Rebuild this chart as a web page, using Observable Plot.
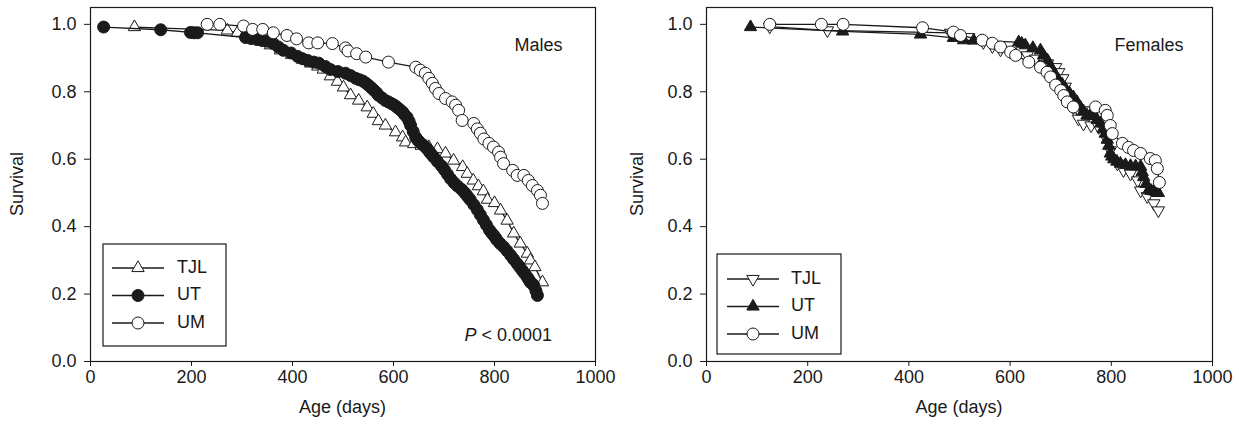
<!DOCTYPE html>
<html><head><meta charset="utf-8">
<script src="https://cdn.jsdelivr.net/npm/d3@7"></script>
<script src="https://cdn.jsdelivr.net/npm/@observablehq/plot@0.6"></script>
<style>
body{margin:0;background:#fff;}
#wrap{display:flex;width:1239px;height:424px;}
</style></head><body><div id="wrap"></div>
<script>
// ---- data (age in days, survival fraction) ----
const xTicks = [0, 200, 400, 600, 800, 1000];
const yTicks = [0, 0.2, 0.4, 0.6, 0.8, 1.0];
const groups = ["TJL", "UT", "UM"];

const malesTJL = [[87,0.992],[271,0.982],[291,0.975],[343,0.955],[356,0.938],[376,0.923],[398,0.91],[420,0.895],[436,0.884],[450,0.875],[461,0.866],[475,0.846],[489,0.83],[501,0.813],[515,0.79],[531,0.774],[548,0.754],[560,0.735],[570,0.713],[584,0.70],[604,0.68],[618,0.665],[624,0.65],[640,0.645],[655,0.64],[670,0.636],[687,0.63],[703,0.617],[719,0.596],[737,0.577],[746,0.557],[758,0.537],[768,0.52],[778,0.505],[786,0.48],[800,0.47],[812,0.448],[825,0.418],[838,0.38],[851,0.35],[865,0.32],[871,0.30],[880,0.28],[895,0.235]];
const malesUT = [[26,0.992],[139,0.984],[198,0.976],[205,0.975],[212,0.975],[307,0.961],[318,0.958],[330,0.955],[340,0.952],[350,0.95],[362,0.943],[372,0.933],[382,0.923],[397,0.915],[410,0.905],[420,0.898],[430,0.893],[442,0.888],[452,0.885],[465,0.875],[475,0.866],[490,0.86],[505,0.855],[515,0.848],[525,0.84],[532,0.836],[539,0.832],[545,0.826],[550,0.82],[556,0.812],[561,0.805],[566,0.798],[570,0.79],[577,0.782],[584,0.774],[590,0.77],[596,0.765],[602,0.76],[607,0.754],[612,0.748],[618,0.74],[622,0.732],[627,0.724],[631,0.712],[634,0.70],[639,0.682],[644,0.665],[648,0.657],[652,0.65],[658,0.643],[663,0.636],[668,0.628],[672,0.62],[676,0.613],[680,0.606],[687,0.593],[695,0.58],[701,0.568],[707,0.555],[713,0.542],[720,0.53],[727,0.52],[735,0.51],[740,0.502],[744,0.495],[748,0.487],[752,0.48],[759,0.465],[766,0.45],[772,0.435],[778,0.42],[784,0.405],[790,0.39],[794,0.382],[798,0.375],[802,0.367],[805,0.36],[811,0.35],[818,0.34],[825,0.328],[832,0.315],[838,0.303],[845,0.29],[850,0.28],[855,0.27],[860,0.26],[865,0.25],[868,0.243],[871,0.235],[875,0.23],[878,0.225],[882,0.21],[885,0.196]];
const malesUM = [[231,1.0],[256,1.0],[303,0.995],[321,0.985],[341,0.985],[362,0.975],[389,0.967],[408,0.957],[432,0.945],[450,0.945],[479,0.943],[505,0.93],[510,0.921],[527,0.913],[545,0.903],[590,0.888],[644,0.873],[653,0.864],[663,0.855],[670,0.84],[677,0.825],[683,0.81],[690,0.795],[703,0.78],[716,0.77],[723,0.76],[729,0.745],[736,0.715],[759,0.706],[766,0.69],[772,0.677],[779,0.66],[789,0.647],[798,0.636],[808,0.621],[812,0.606],[818,0.587],[836,0.567],[845,0.552],[858,0.552],[867,0.537],[875,0.522],[885,0.507],[891,0.493],[895,0.469]];

const femalesTJL = [[125,0.993],[239,0.982],[482,0.975],[496,0.97],[518,0.962],[547,0.947],[565,0.935],[581,0.925],[601,0.918],[634,0.908],[650,0.898],[674,0.884],[690,0.873],[696,0.858],[704,0.84],[709,0.815],[713,0.774],[725,0.754],[735,0.72],[745,0.705],[760,0.70],[775,0.695],[785,0.69],[792,0.656],[798,0.626],[812,0.587],[824,0.567],[838,0.557],[852,0.537],[858,0.507],[871,0.49],[884,0.469],[893,0.448]];
const femalesUT = [[87,0.992],[269,0.979],[423,0.970],[488,0.96],[508,0.953],[528,0.952],[617,0.947],[623,0.943],[630,0.938],[645,0.93],[660,0.923],[666,0.908],[674,0.893],[680,0.875],[686,0.858],[691,0.846],[696,0.834],[703,0.822],[709,0.81],[717,0.797],[725,0.784],[732,0.77],[739,0.754],[745,0.742],[752,0.73],[758,0.729],[765,0.728],[772,0.717],[779,0.706],[784,0.69],[788,0.676],[792,0.658],[795,0.64],[798,0.617],[801,0.608],[805,0.60],[811,0.593],[818,0.587],[828,0.583],[838,0.58],[848,0.579],[858,0.578],[861,0.562],[864,0.547],[869,0.527],[874,0.508],[879,0.506],[884,0.505],[889,0.502],[893,0.50]];
const femalesUM = [[125,1.0],[227,1.0],[270,1.0],[427,0.99],[488,0.977],[502,0.967],[545,0.953],[565,0.944],[581,0.933],[601,0.918],[611,0.908],[637,0.888],[660,0.873],[673,0.858],[680,0.844],[690,0.82],[700,0.804],[706,0.789],[713,0.77],[725,0.755],[769,0.755],[788,0.745],[792,0.73],[798,0.70],[802,0.676],[822,0.647],[834,0.635],[844,0.626],[858,0.617],[877,0.602],[887,0.596],[891,0.572],[895,0.531]];

// ---- symbols ----
const triDown = {draw(ctx, size){ const y = Math.sqrt(size/(3*Math.sqrt(3))); ctx.moveTo(0, 2*y); ctx.lineTo(-Math.sqrt(3)*y, -y); ctx.lineTo(Math.sqrt(3)*y, -y); ctx.closePath(); }};
const FONT = "'Liberation Sans', Arial, Helvetica, sans-serif";
const INK = "#1a1a1a";
const FS = 18;

function makePanel(cfg){
  const marks = [];
  for (const s of cfg.series){
    const data = s.pts.map(([a, v]) => ({a, v}));
    marks.push(Plot.line(data, {x:"a", y:"v", stroke: INK, strokeWidth: 1.3}));
    marks.push(Plot.dot(data, {x:"a", y:"v", symbol: s.symbol, r: s.r, fill: s.fill, stroke: INK, strokeWidth: 1}));
  }
  const svg = Plot.plot({
    width: cfg.width, height: 424,
    marginLeft: cfg.ml, marginRight: cfg.mr, marginTop: 7, marginBottom: 63,
    x: {domain: [0, 1000]},
    y: {domain: [0, 1.05]},
    style: {fontFamily: FONT, fontSize: FS + "px", color: INK, background: "white", overflow: "visible"},
    marks: [
      Plot.axisX({ticks: xTicks, tickSize: 5, tickPadding: 4, tickFormat: d => String(d), label: null}),
      Plot.axisY({ticks: yTicks, tickSize: 6, tickPadding: 8, tickFormat: d3.format(".1f"), label: null}),
      ...marks,
      Plot.frame({stroke: INK, strokeWidth: 1.2}),
      Plot.text([cfg.title], {frameAnchor: "top-right", dx: cfg.titleDx, dy: 31, textAnchor: "end", fontSize: FS})
    ]
  });
  const s = d3.select(svg);
  const left = cfg.ml, right = cfg.width - cfg.mr, bottom = 424 - 63;
  s.append("text").attr("x", (left + right)/2).attr("y", 408).attr("text-anchor", "middle")
    .attr("dominant-baseline", "middle").attr("font-size", FS).attr("fill", INK).text("Age (days)");
  s.append("text").attr("transform", `translate(${cfg.ylabX},${(7 + bottom)/2}) rotate(-90)`)
    .attr("text-anchor", "middle").attr("dominant-baseline", "middle").attr("font-size", FS).attr("fill", INK).text("Survival");
  // legend
  const L = cfg.legend;
  const g = s.append("g");
  g.append("rect").attr("x", L.x).attr("y", L.y).attr("width", L.w).attr("height", L.h)
    .attr("fill", "white").attr("stroke", INK).attr("stroke-width", 1.2);
  cfg.series.forEach((ser, i) => {
    const yy = L.y + L.row0 + i * L.dy;
    g.append("line").attr("x1", L.lx1).attr("x2", L.lx2).attr("y1", yy).attr("y2", yy).attr("stroke", INK).attr("stroke-width", 1.3);
    const sym = ser.symbol === "circle" ? d3.symbolCircle : ser.symbol === "triangle" ? d3.symbolTriangle : ser.symbol;
    g.append("path").attr("d", d3.symbol(sym, Math.PI * ser.r * ser.r)())
      .attr("transform", `translate(${(L.lx1 + L.lx2)/2},${yy})`)
      .attr("fill", ser.fill).attr("stroke", INK).attr("stroke-width", 1);
    g.append("text").attr("x", L.tx).attr("y", yy).attr("text-anchor", "start").attr("dominant-baseline", "middle")
      .attr("font-size", FS).attr("fill", INK).text(groups[i]);
  });
  if (cfg.pText){
    const t = s.append("text").attr("x", right - 43).attr("y", 336).attr("text-anchor", "end")
      .attr("dominant-baseline", "middle").attr("font-size", FS).attr("fill", INK);
    t.append("tspan").attr("font-style", "italic").text("P");
    t.append("tspan").text(" < 0.0001");
  }
  return svg;
}

const wrap = document.getElementById("wrap");
wrap.append(makePanel({
  width: 620, ml: 90, mr: 25, title: "Males", titleDx: -33, ylabX: 18, pText: true,
  series: [
    {pts: malesTJL, symbol: "triangle", r: 4.6, fill: "white"},
    {pts: malesUT, symbol: "circle", r: 6, fill: INK},
    {pts: malesUM, symbol: "circle", r: 6, fill: "white"}
  ],
  legend: {x: 103, y: 244, w: 123, h: 102, row0: 24, dy: 27.5, lx1: 112, lx2: 164, tx: 177}
}));
wrap.append(makePanel({
  width: 619, ml: 86, mr: 27, title: "Females", titleDx: -29, ylabX: 18, pText: false,
  series: [
    {pts: femalesTJL, symbol: triDown, r: 4.6, fill: "white"},
    {pts: femalesUT, symbol: "triangle", r: 4.6, fill: INK},
    {pts: femalesUM, symbol: "circle", r: 6, fill: "white"}
  ],
  legend: {x: 97, y: 254, w: 124, h: 100, row0: 25, dy: 27.5, lx1: 107, lx2: 159, tx: 171}
}));
</script></body></html>
